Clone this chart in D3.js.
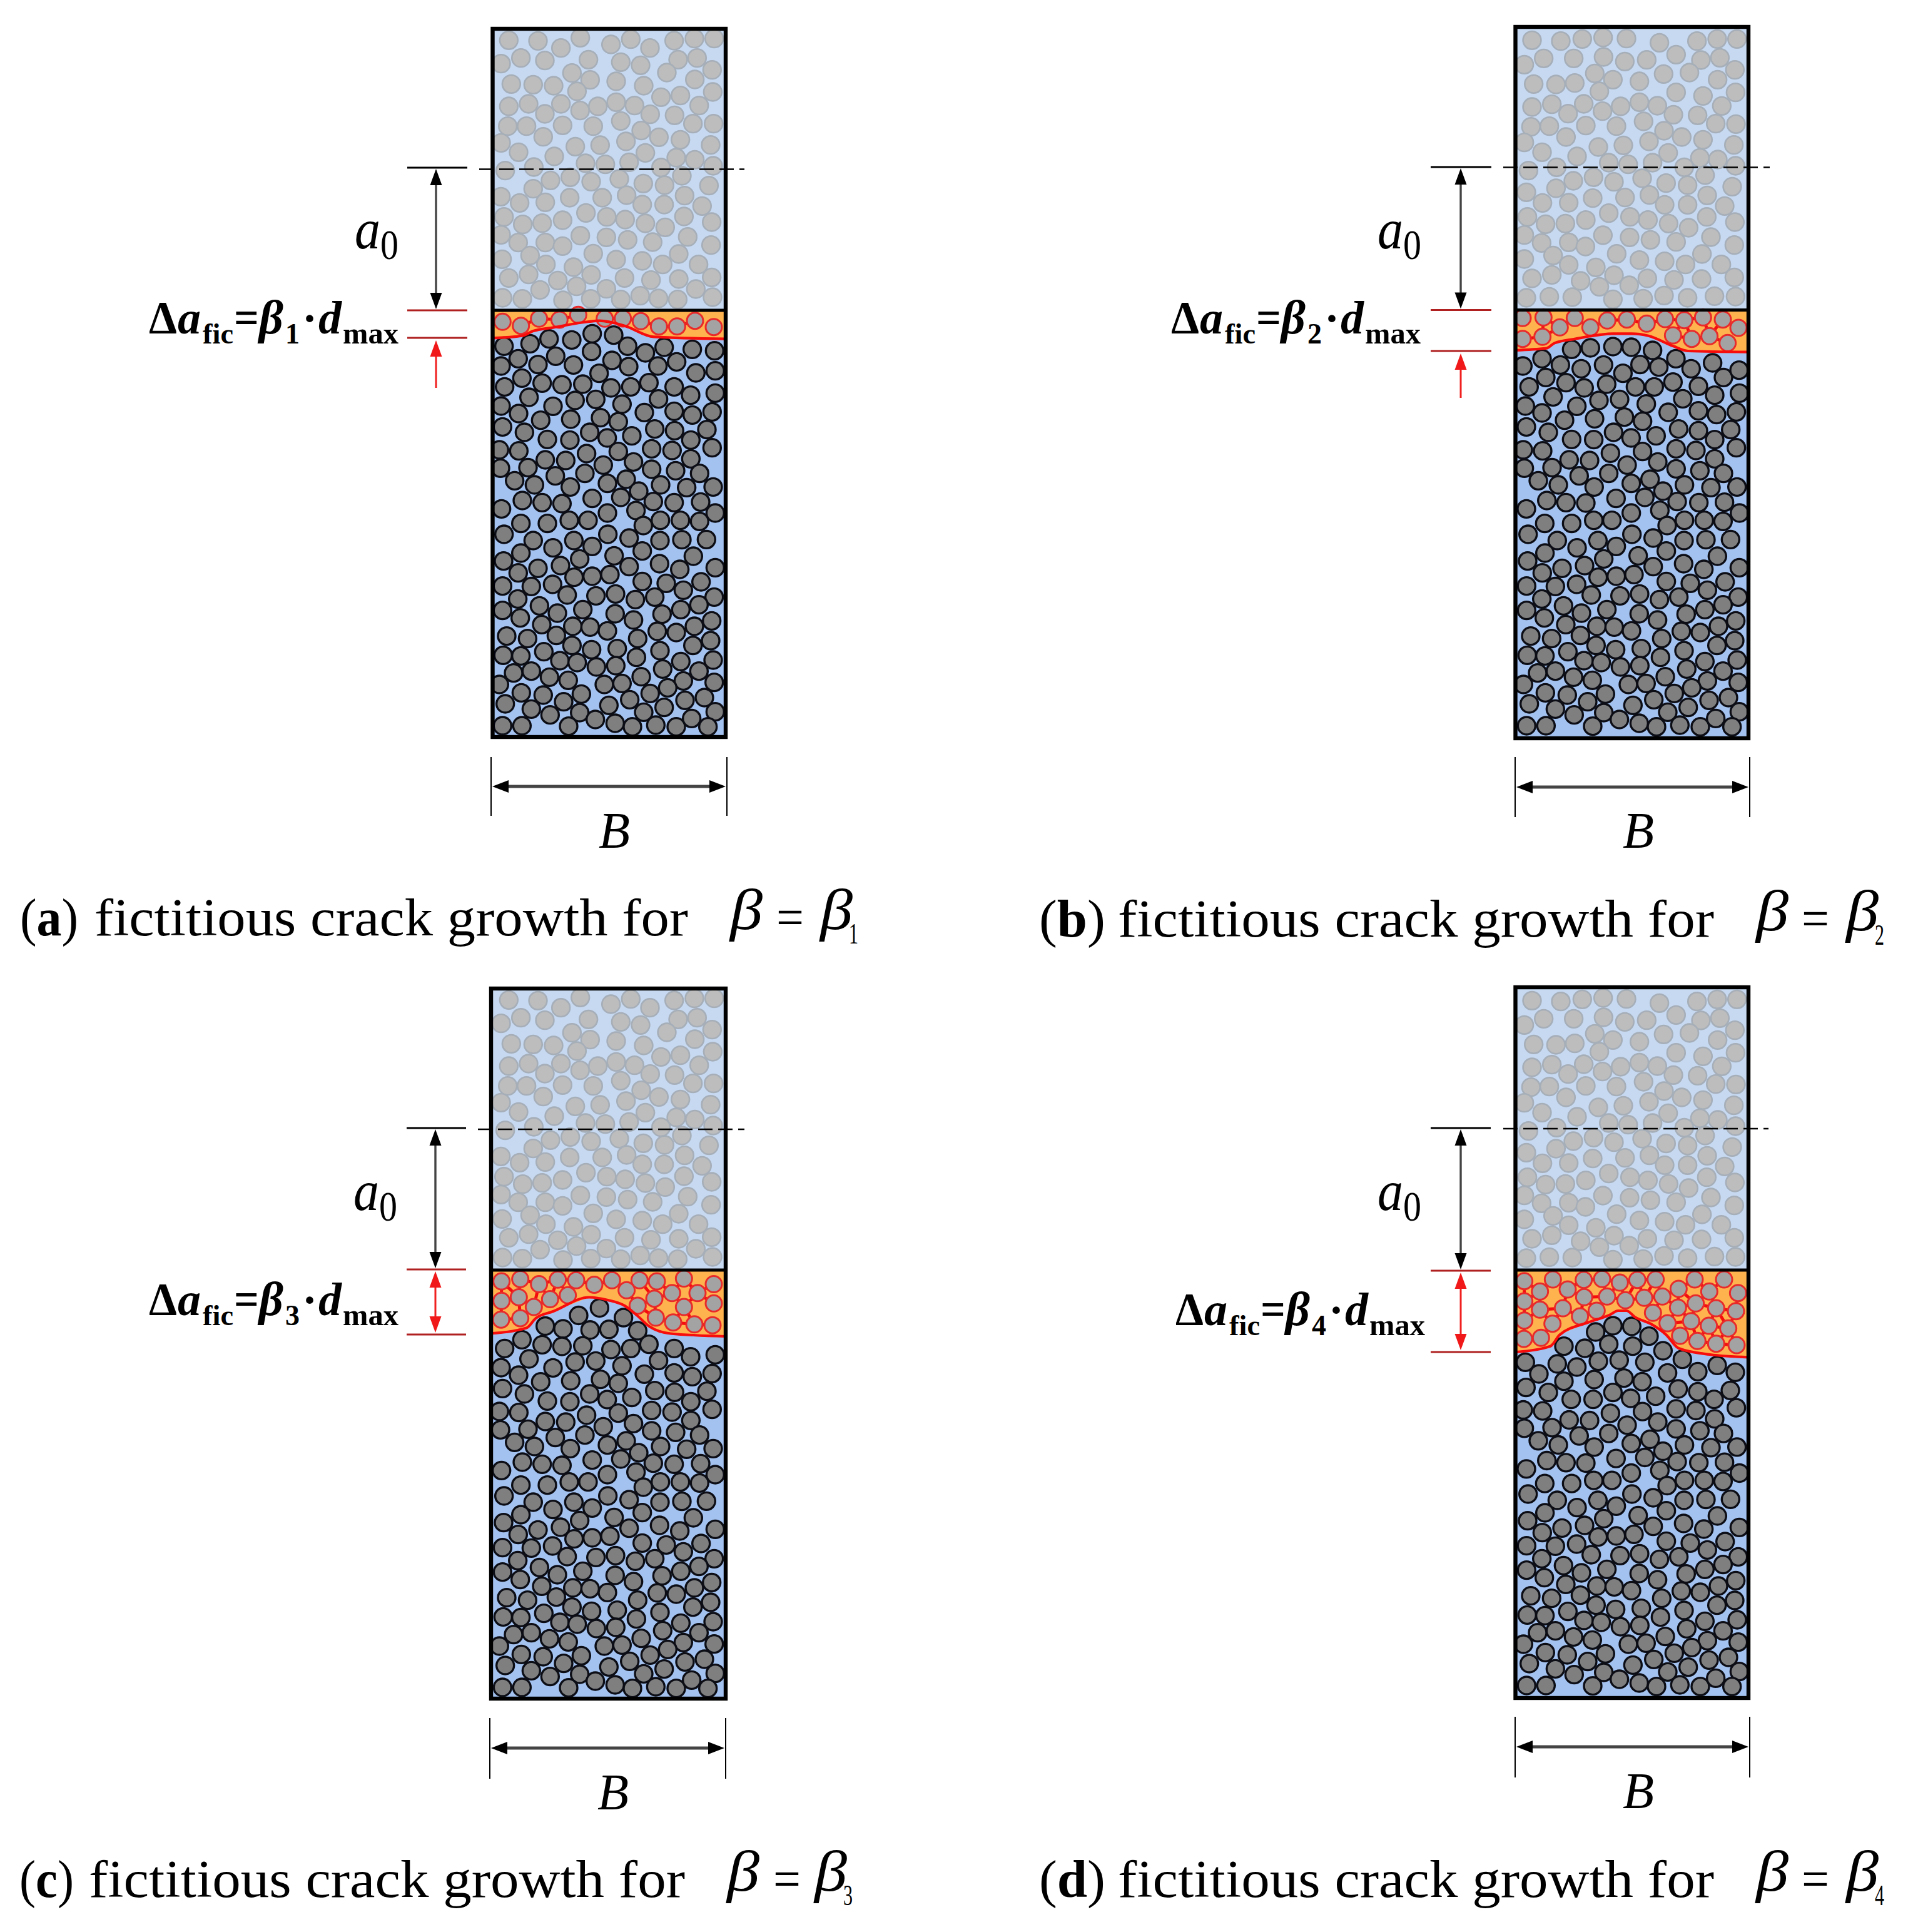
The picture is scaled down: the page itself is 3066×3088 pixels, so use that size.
<!DOCTYPE html>
<html><head><meta charset="utf-8">
<script src="https://cdn.jsdelivr.net/npm/d3@7"></script>
<style>html,body{margin:0;padding:0;background:#fff}svg{display:block}text{font-family:"Liberation Serif",serif;fill:#000}</style>
</head><body><div id="c"></div>
<script>
// Particle centres, each list in its own reading units.
const grayA=[[85,40],[225,43],[335,77],[428,28],[575,60],[670,35],[762,77],[878,42],[975,32],[1070,32],[48,152],[143,125],[258,137],[467,133],[622,145],[717,160],[897,133],[988,125],[843,195],[1060,182],[388,197],[475,230],[600,237],[97,250],[202,253],[300,258],[732,258],[977,228],[412,285],[1063,288],[815,313],[908,305],[85,357],[180,345],[335,345],[258,393],[427,377],[512,357],[600,337],[688,353],[998,353],[763,395],[880,400],[80,452],[170,452],[343,448],[490,452],[622,427],[968,440],[1067,440],[720,473],[250,503],[48,532],[805,505],[908,517],[647,525],[404,550],[523,543],[1053,542],[132,577],[303,597],[740,580],[888,603],[977,613],[453,630],[548,635],[662,625],[815,650],[1065,642],[68,665],[205,648],[285,712],[380,697],[480,718],[615,705],[730,727],[832,735],[915,690],[1045,737],[202,752],[47,790],[137,820],[260,817],[377,795],[533,795],[650,783],[725,828],[830,828],[928,785],[1012,835],[62,887],[152,923],[245,917],[343,903],[455,868],[555,887],[643,900],[740,918],[835,937],[925,885],[1058,912],[48,973],[130,1010],[260,1010],[343,1027],[428,977],[553,985],[655,997],[775,1008],[943,983],[1055,1022],[53,1090],[187,1072],[263,1115],[490,1063],[600,1092],[725,1098],[823,1115],[900,1065],[995,1115],[85,1180],[180,1163],[395,1128],[480,1165],[320,1192],[640,1180],[767,1190],[900,1185],[1058,1177],[410,1220],[553,1232],[235,1237],[982,1233],[55,1275],[150,1280],[345,1287],[478,1280],[622,1283],[715,1265],[803,1278],[895,1283],[1062,1272]];
const grayB=[[42,88],[180,92],[283,82],[383,75],[495,80],[653,100],[833,92],[930,82],[1025,82],[98,175],[5,205],[242,175],[385,168],[487,190],[592,182],[733,157],[852,183],[943,172],[1015,230],[343,247],[430,277],[673,250],[797,243],[557,285],[50,298],[157,300],[247,293],[932,277],[365,333],[733,338],[862,355],[1018,338],[42,408],[137,395],[215,440],[290,393],[380,428],[467,405],[557,385],[643,402],[720,445],[952,403],[836,448],[37,503],[125,500],[300,497],[447,500],[577,477],[675,522],[923,488],[1020,490],[205,552],[5,578],[760,552],[603,573],[862,565],[360,600],[480,592],[1010,590],[90,625],[258,645],[695,628],[410,675],[503,683],[620,675],[847,652],[933,660],[1018,690],[25,713],[160,697],[772,697],[240,762],[337,745],[435,767],[570,750],[685,773],[788,783],[872,735],[1002,790],[157,798],[15,817],[92,868],[218,867],[333,845],[488,842],[605,830],[678,877],[788,877],[882,832],[966,883],[20,935],[107,970],[202,967],[300,950],[410,917],[512,935],[598,950],[697,967],[793,987],[880,935],[1015,960],[5,1022],[88,1060],[218,1057],[298,1077],[382,1023],[510,1033],[610,1045],[733,1055],[900,1032],[1012,1070],[5,1137],[143,1120],[218,1165],[448,1112],[557,1142],[678,1148],[778,1163],[857,1113],[950,1163],[42,1230],[137,1213],[348,1177],[435,1215],[275,1242],[595,1230],[723,1237],[855,1233],[1012,1225],[365,1270],[508,1263],[15,1323],[125,1318],[235,1320],[430,1330],[575,1327],[675,1312],[788,1323],[917,1315],[1018,1317]];
const darkTopA=[[62,190],[187,178],[278,155],[387,160],[485,130],[588,137],[655,190],[482,215],[740,222],[830,195],[965,205],[1072,212],[130,250],[310,238],[48,285],[225,278],[395,280],[580,258],[660,288],[800,285],[890,265],[518,320],[982,318],[1075,308]];
const darkMidA=[[148,343],[65,385],[245,367],[340,375],[440,372],[575,390],[670,385],[757,365],[878,385],[182,435],[403,450],[502,445],[803,443],[957,425],[1075,415],[48,477],[297,478],[628,468],[132,513],[735,508],[878,502],[965,520],[1060,505],[238,545],[382,540],[525,533],[610,552],[55,577],[160,603],[473,603],[785,587],[880,595],[1035,590],[270,637],[378,640],[557,630],[675,620],[958,640],[40,687],[133,692],[458,705],[610,695],[770,682],[868,690],[1060,677],[260,735],[358,738],[683,745],[958,730],[538,760],[45,775],[177,772],[308,812],[450,800],[770,780],[885,787],[1000,800],[113,835],[208,855],[380,865],[558,848],[648,828],[813,855],[938,868],[1065,865],[150,930],[245,940],[340,945],[485,920],[622,915],[708,885],[778,935],[878,940],[1005,937],[50,970],[558,990],[695,978],[1075,990],[143,1040],[270,1040],[375,1025],[465,1025],[812,1025],[908,1025],[1000,1030],[730,1050]];
const darkLower=[[62,42],[202,72],[297,107],[397,72],[485,100],[560,42],[662,60],[810,72],[915,68],[1033,67],[143,132],[725,122],[425,160],[590,145],[970,147],[60,170],[333,192],[662,197],[808,183],[905,210],[1075,202],[130,227],[225,205],[398,248],[485,243],[570,235],[55,290],[193,292],[295,282],[725,268],[840,277],[1007,270],[922,310],[365,333],[503,337],[597,328],[692,355],[785,343],[1070,343],[128,352],[232,385],[997,380],[910,403],[55,407],[318,420],[440,403],[595,423],[683,453],[820,425],[140,443],[243,475],[392,483],[475,487],[558,505],[797,507],[888,513],[975,483],[1058,457],[75,530],[175,542],[313,527],[703,542],[388,575],[482,595],[605,590],[810,600],[968,575],[1053,552],[58,622],[143,625],[253,605],[330,648],[413,657],[505,678],[598,672],[697,632],[910,652],[1065,645],[108,707],[193,698],[280,727],[823,688],[997,698],[720,725],[40,762],[370,742],[543,762],[628,757],[922,745],[1070,752],[145,802],[250,813],[433,808],[763,805],[847,778],[68,855],[348,845],[565,862],[665,835],[930,838],[1023,825],[193,880],[283,908],[425,897],[732,895],[830,872],[1075,893],[55,960],[148,960],[372,962],[500,930],[595,948],[678,965],[790,957],[888,965],[962,925],[1040,965]];
const darkTopB=[[232,205],[322,198],[430,192],[518,195],[620,210],[90,250],[178,280],[278,298],[385,280],[478,320],[560,278],[650,290],[732,250],[805,298],[908,270],[960,340],[1035,305],[-2,285],[108,340],[205,365],[292,390],[400,372],[538,385],[628,385],[718,362],[840,382],[28,385],[1037,415],[143,433],[363,450],[462,445],[590,467],[765,442],[918,425],[10,477],[257,478],[90,510],[695,507],[840,500],[927,518],[1022,505],[198,545],[342,538],[485,530],[572,550],[15,577],[120,603],[433,603],[745,587],[840,595],[995,590],[232,637],[338,638],[517,630],[637,620],[918,638]];
const darkMidB=[[0,687],[93,692],[418,703],[572,695],[733,682],[828,690],[1022,677],[220,735],[318,738],[645,745],[918,730],[498,760],[5,775],[138,772],[268,812],[410,800],[733,778],[847,787],[960,800],[72,835],[168,855],[340,865],[518,848],[608,828],[773,855],[900,868],[1025,865],[113,930],[205,940],[300,942],[445,920],[583,915],[670,885],[738,935],[842,940],[965,938],[15,970],[518,990],[655,977],[1037,990],[103,1040],[232,1040],[338,1025],[425,1025],[773,1025],[868,1025],[958,1030],[690,1050]];
const darkTopC=[[260,178],[345,188],[420,140],[520,113],[635,148],[475,192],[565,190],[703,195]];
const darkTopD=[[452,447],[535,417],[625,420],[708,467],[300,515],[400,525],[515,505],[630,515],[775,537],[115,592],[180,648],[268,600],[362,615],[465,587],[565,582],[688,592],[797,643],[868,578],[942,637],[1035,607],[1122,640],[118,713],[225,737],[300,683],[445,675],[588,668],[675,685],[848,720],[942,733],[1098,727],[335,770],[440,770],[535,737],[620,765],[740,755],[1020,770]];
const crackA=[[55,73],[143,92],[230,58],[328,63],[418,40],[545,58],[632,57],[718,70],[805,95],[892,95],[978,68],[1068,98]];
const crackB=[[-3,55],[97,52],[247,55],[403,67],[497,62],[592,82],[680,60],[772,65],[862,52],[957,62],[1032,102],[175,100],[322,100],[-3,155],[92,145],[718,138],[808,155],[893,142],[980,175]];
const crackC=[[50,18],[140,10],[230,28],[320,12],[408,14],[495,30],[580,14],[712,14],[795,18],[925,8],[1068,28],[650,50],[868,60],[990,60],[50,88],[133,75],[205,110],[283,82],[368,68],[783,80],[925,110],[1068,97],[703,105],[48,155],[140,150],[790,148],[873,165],[975,172],[1062,175]];
const crackD=[[110,203],[247,195],[395,197],[483,193],[568,210],[652,197],[740,195],[927,195],[1068,195],[185,253],[318,243],[397,280],[507,277],[595,295],[685,283],[772,277],[850,240],[997,253],[1135,260],[110,300],[185,340],[295,333],[457,345],[727,355],[847,330],[932,310],[1030,333],[1125,347],[110,392],[245,407],[377,372],[797,405],[910,395],[995,417],[1088,430],[108,480],[190,475],[857,465],[940,490],[1030,503],[1128,510]];
const frontA=[[-10,152],[150,140],[200,118],[300,100],[470,72],[520,68],[640,92],[780,145],[1135,155]];
const frontB=[[-50,210],[110,200],[150,175],[250,155],[430,130],[520,130],[600,140],[720,190],[790,213],[1085,218]];
const frontC=[[-10,205],[170,185],[215,150],[300,125],[470,75],[560,85],[640,105],[700,140],[760,180],[860,205],[1125,215]];
const frontD=[[50,545],[235,515],[280,460],[420,400],[520,365],[560,345],[600,345],[640,375],[720,410],[790,460],[850,525],[1000,555],[1190,568]];
const panelLetters=['a','b','c','d'];
const betaSubs=['1','2','3','4'];

// Layout
const R={gray:14.4,dark:14,crack:13};
const panels=[
 {box:[787.5,46,1160,1178],sep:496,gray:[grayA,785,51],crack:[crackA,785,490,3,3],front:frontA,
  dark:[[darkTopA,785,490,3,3],[darkMidA,785,490,3,3],[darkLower,785,840,3,3]],
  tick:[651,747],arrowX:697,yTop:268,dash:[766,1190,270.5],r1:496,r2:540,dbl:false,redEnd:620,
  a0:[567,397],lab:[0,533],dim:[785,1162,1210,1304,1257],bY:1355,bX:957,
  cap:[32,1495,93,151,949],capB:[1167,1241,1311]},
 {box:[2422.5,43,2795,1180],sep:495.5,gray:[grayB,2435,35],crack:[crackB,2435,490,3,3],front:frontB,
  dark:[[darkTopB,2435,490,3,3],[darkMidB,2435,490,3,3],[darkLower,2422,840,3,3]],
  tick:[2287,2384],arrowX:2335,yTop:267,dash:[2403,2829,267.5],r1:495.5,r2:561,dbl:false,redEnd:636,
  a0:[2202,397],lab:[1634,533],dim:[2422,2797,1210,1306,1258],bY:1355,bX:2594,
  cap:[1661,1497,106,1787,953],capB:[2807,2880,2951]},
 {box:[785,1580,1160,2715],sep:2030,gray:[grayA,785,1585],crack:[crackC,785,2040,3,2.24],front:frontC,
  dark:[[darkTopC,785,2040,3,2.24],[darkMidA,785,2027,3,3],[darkLower,785,2377,3,3]],
  tick:[650,745],arrowX:696,yTop:1803,dash:[764,1190,1805],r1:2029,r2:2133,dbl:true,
  a0:[565,1934],lab:[0,2102],dim:[783,1160,2746,2843,2794],bY:2892,bX:955,
  cap:[31,3032,87,142,953],capB:[1162,1236,1302]},
 {box:[2422.5,1578,2795,2714],sep:2030,gray:[grayB,2435,1570],crack:[crackD,2400,1980,3,3],front:frontD,
  dark:[[darkTopD,2400,1980,3,3],[darkMidB,2435,2024.5,3,3],[darkLower,2422,2374,3,3]],
  tick:[2287,2383],arrowX:2335,yTop:1803,dash:[2403,2827,1804],r1:2031,r2:2161,dbl:true,
  a0:[2202,1934],lab:[1641,2118],dim:[2422,2797,2744,2841,2792],bY:2890,bX:2594,
  cap:[1661,3032,106,1787,953],capB:[2807,2880,2951]}
];

const svg=d3.select('#c').append('svg').attr('width',3066).attr('height',3088);
const defs=svg.append('defs');
defs.append('filter').attr('id','soft').attr('x','-2%').attr('y','-2%').attr('width','104%').attr('height','104%')
  .append('feGaussianBlur').attr('stdDeviation',0.6);
const place=(list,x0,y0,kx,ky)=>{
  const sx=d3.scaleLinear([0,1000],[x0,x0+1000/kx]),sy=d3.scaleLinear([0,1000],[y0,y0+1000/ky]);
  return list.map(d=>[sx(d[0]),sy(d[1])]);
};
const tri=(g,x,y,ux,uy,len,hw,col)=>{
  const px=-uy,py=ux;
  g.append('path').attr('fill',col)
   .attr('d',d3.line()([[x,y],[x-ux*len+px*hw,y-uy*len+py*hw],[x-ux*len-px*hw,y-uy*len-py*hw]])+'Z');
};
const seg=(g,x1,y1,x2,y2,col,w,dash)=>g.append('line').attr('x1',x1).attr('y1',y1).attr('x2',x2).attr('y2',y2)
  .attr('stroke',col).attr('stroke-width',w).attr('stroke-dasharray',dash||null);
const put=(g,x,y,str,size,opt={})=>{
  const t=g.append('text').attr('x',x).attr('y',y).attr('font-size',size)
    .attr('font-weight',opt.b?'bold':'normal').attr('font-style',opt.i?'italic':'normal').text(str);
  if(opt.len)t.attr('textLength',opt.len).attr('lengthAdjust','spacingAndGlyphs');
  return t;
};

panels.forEach((p,i)=>{
  const [x0,y0,x1,y1]=p.box;
  const inner=svg.append('g').attr('filter','url(#soft)');
  const id='p'+i;
  const cp=(n,build)=>build(defs.append('clipPath').attr('id',id+n));
  cp('all',c=>c.append('rect').attr('x',x0).attr('y',y0).attr('width',x1-x0).attr('height',y1-y0));
  cp('top',c=>c.append('rect').attr('x',x0).attr('y',y0).attr('width',x1-x0).attr('height',p.sep-y0));
  const front=place(p.front,p.crack[1],p.crack[2],p.crack[3],p.crack[4]);
  const zone=[[front[0][0],p.sep],...front,[front[front.length-1][0],p.sep]];
  cp('zone',c=>c.append('path').attr('d',d3.line()(zone)+'Z'));
  const body=inner.append('g').attr('clip-path',`url(#${id}all)`);
  body.append('rect').attr('x',x0).attr('y',y0).attr('width',x1-x0).attr('height',y1-y0).attr('fill','#a4c2f0');
  body.append('rect').attr('x',x0).attr('y',y0).attr('width',x1-x0).attr('height',p.sep-y0).attr('fill','#c6d9f1');
  body.append('path').attr('d',d3.line()(zone)+'Z').attr('fill','#ffb34f');
  // gray aggregate above the crack tip
  body.append('g').attr('clip-path',`url(#${id}top)`).selectAll('circle')
    .data(place(p.gray[0],p.gray[1],p.gray[2],3,3)).join('circle')
    .attr('cx',d=>d[0]).attr('cy',d=>d[1]).attr('r',R.gray)
    .attr('fill','#bdbdbd').attr('stroke','#a6aeb8').attr('stroke-width',2.6);
  // crack-zone aggregate with the red links between neighbours
  const cpts=place(p.crack[0],p.crack[1],p.crack[2],p.crack[3],p.crack[4]);
  const zg=body.append('g').attr('clip-path',`url(#${id}zone)`);
  const del=d3.Delaunay.from(cpts);
  const edges=[];
  for(let e=0;e<del.halfedges.length;e++){const o=del.halfedges[e];if(o<e)continue;
    const a=cpts[del.triangles[e]],b=cpts[del.triangles[e%3===2?e-2:e+1]];
    if(Math.hypot(a[0]-b[0],a[1]-b[1])<38)edges.push([a,b]);}
  zg.selectAll('line').data(edges).join('line')
    .attr('x1',d=>d[0][0]).attr('y1',d=>d[0][1]).attr('x2',d=>d[1][0]).attr('y2',d=>d[1][1])
    .attr('stroke','#f51010').attr('stroke-width',5);
  body.append('g').selectAll('circle').data(cpts).join('circle')
    .attr('cx',d=>d[0]).attr('cy',d=>d[1]).attr('r',R.crack)
    .attr('fill','#a3a3a3').attr('stroke','#e82c2c').attr('stroke-width',3);
  // dark aggregate
  const dpts=p.dark.flatMap(l=>place(...l));
  body.append('g').selectAll('circle').data(dpts).join('circle')
    .attr('cx',d=>d[0]).attr('cy',d=>d[1]).attr('r',R.dark)
    .attr('fill','#7f7f7f').attr('stroke','#0c1118').attr('stroke-width',3.4);
  // crack front
  body.append('path').attr('d',d3.line().curve(d3.curveMonotoneX)(front)).attr('fill','none')
    .attr('stroke','#f80808').attr('stroke-width',4.2);
  // frame
  inner.append('line').attr('x1',x0).attr('x2',x1).attr('y1',p.sep).attr('y2',p.sep).attr('stroke','#000').attr('stroke-width',5);
  inner.append('rect').attr('x',x0).attr('y',y0).attr('width',x1-x0).attr('height',y1-y0)
    .attr('fill','none').attr('stroke','#000').attr('stroke-width',6.4);

  // annotations
  const g=svg.append('g');
  seg(g,p.dash[0],p.dash[2],p.dash[1],p.dash[2],'#000',2.6,'23 9');
  seg(g,p.tick[0],p.yTop,p.tick[1],p.yTop,'#000',2.8);
  const ax=p.arrowX;
  seg(g,ax,p.yTop+14,ax,p.r1-14,'#444',3.4);
  tri(g,ax,p.yTop+2,0,-1,26,9.5,'#000');
  tri(g,ax,p.r1-2,0,1,26,9.5,'#000');
  seg(g,p.tick[0],p.r1,p.tick[1],p.r1,'#b02020',2.8);
  seg(g,p.tick[0],p.r2,p.tick[1],p.r2,'#b02020',2.8);
  if(p.dbl){
    seg(g,ax,p.r1+14,ax,p.r2-14,'#f02020',3);
    tri(g,ax,p.r1+3,0,-1,26,9.5,'#f01818');
    tri(g,ax,p.r2-3,0,1,26,9.5,'#f01818');
  }else{
    seg(g,ax,p.r2+14,ax,p.redEnd,'#f02020',3);
    tri(g,ax,p.r2+4,0,-1,26,9.5,'#f01818');
  }
  // a0
  put(g,p.a0[0],p.a0[1],'a',90,{i:true,len:41});
  put(g,p.a0[0]+41,p.a0[1]+17,'0',68,{len:29});
  // Δa_fic = β_i · d_max
  const lx=p.lab[0],ly=p.lab[1];
  put(g,lx+238,ly,'Δ',74,{b:true,len:45});
  put(g,lx+284,ly,'a',74,{b:true,i:true});
  put(g,lx+324,ly+16,'fic',46,{b:true,len:49});
  put(g,lx+374,ly,'=',74,{b:true,len:40});
  put(g,lx+414,ly,'β',76,{b:true,i:true});
  put(g,lx+456,ly+16,betaSubs[i],46,{b:true});
  put(g,lx+483,ly,'·',72,{b:true});
  put(g,lx+509,ly,'d',74,{b:true,i:true});
  put(g,lx+548,ly+16,'max',48,{b:true,len:89});
  // B dimension
  const [dl,dr,dt,db,dy]=p.dim;
  seg(g,dl,dt,dl,db,'#000',2);
  seg(g,dr,dt,dr,db,'#000',2);
  seg(g,dl+14,dy,dr-14,dy,'#444',5);
  tri(g,dl+2,dy,-1,0,26,10,'#000');
  tri(g,dr-2,dy,1,0,26,10,'#000');
  put(g,p.bX,p.bY,'B',83,{i:true,len:50});
  // caption
  const t=g.append('text').attr('x',p.cap[0]).attr('y',p.cap[1]).attr('font-size',84)
    .attr('textLength',p.cap[2]).attr('lengthAdjust','spacingAndGlyphs');
  t.append('tspan').text('(');
  t.append('tspan').attr('font-weight','bold').text(panelLetters[i]);
  t.append('tspan').text(')');
  put(g,p.cap[3],p.cap[1],'fictitious crack growth for',84,{len:p.cap[4]});
  const by=p.cap[1]-10;
  put(g,p.capB[0],by,'β',94,{i:true,len:52});
  put(g,p.capB[1],by+10,'=',84,{len:44});
  put(g,p.capB[2],by,'β',94,{i:true,len:52});
  put(g,p.capB[2]+46,by+23,betaSubs[i],46,{len:15});
});
</script></body></html>
